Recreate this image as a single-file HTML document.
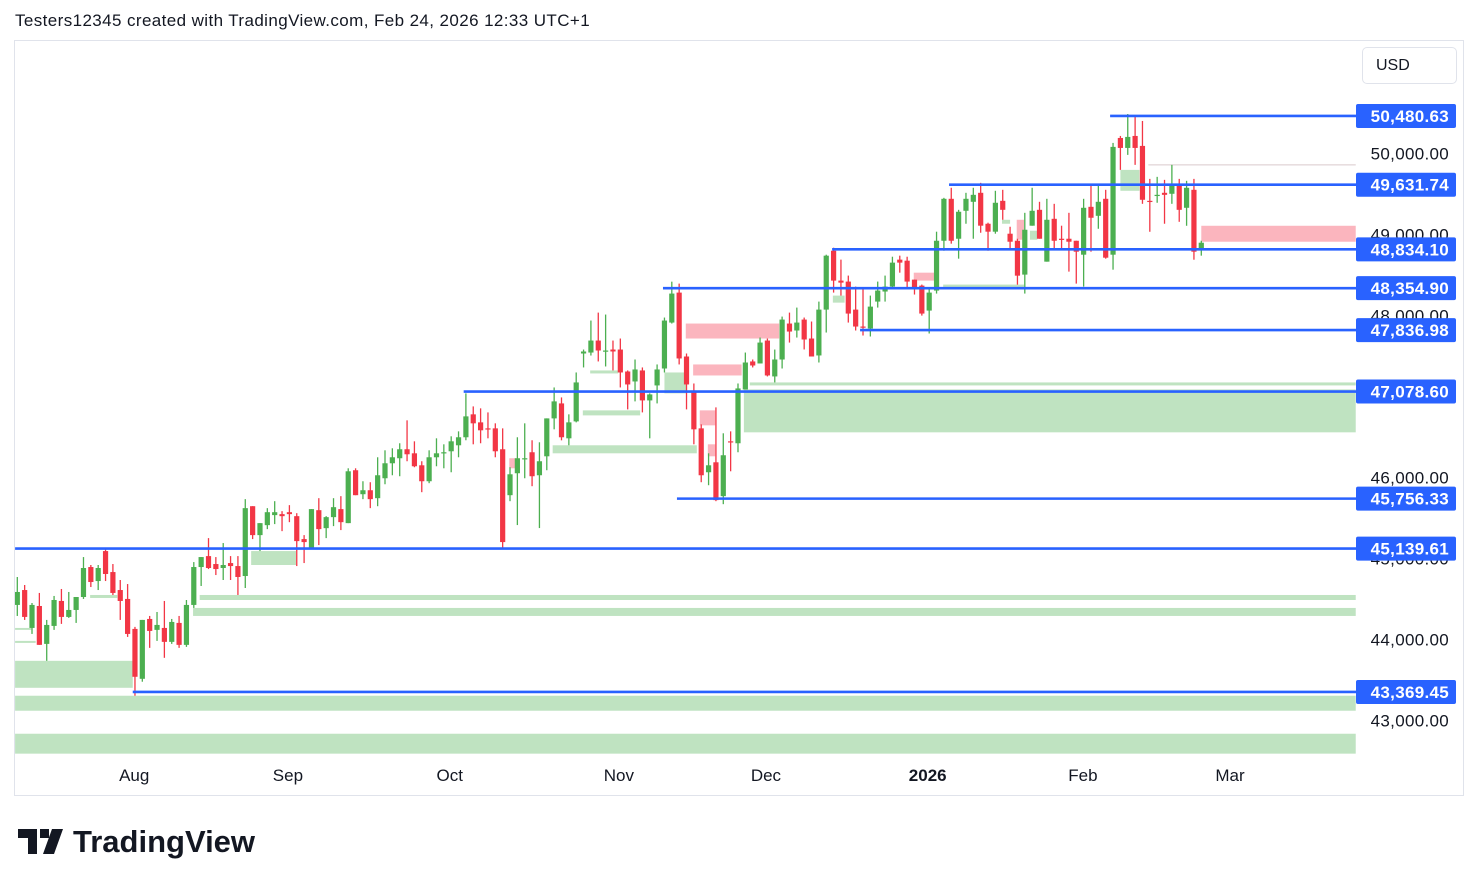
<!DOCTYPE html>
<html><head><meta charset="utf-8">
<style>
html,body{margin:0;padding:0;background:#fff;}
body{width:1479px;height:886px;position:relative;overflow:hidden;font-family:"Liberation Sans",sans-serif;color:#131722;}
#title{position:absolute;left:15px;top:11px;font-size:17px;letter-spacing:0.4px;}
#frame{position:absolute;left:14px;top:40px;width:1450px;height:756px;border:1px solid #e0e3eb;box-sizing:border-box;}
#usd{position:absolute;left:1362px;top:47px;width:95px;height:37px;border:1px solid #e0e3eb;border-radius:5px;box-sizing:border-box;font-size:16px;line-height:35px;padding-left:13px;}
#logo{position:absolute;left:18px;top:822px;height:40px;}
svg text{font-family:"Liberation Sans",sans-serif;}
</style></head>
<body>
<div id="title">Testers12345 created with TradingView.com, Feb 24, 2026 12:33 UTC+1</div>
<div id="frame"></div>
<svg id="chart" width="1479" height="886" style="position:absolute;left:0;top:0"></svg>
<div id="usd">USD</div>
<svg id="logo" width="260" height="40">
 <path d="M0 7h19v25h-9V16H0z M22 7h9v9h-9z M34 7h11l-9 25H25z" fill="#131722"/>
 <text x="55" y="30" font-size="31" font-weight="bold" fill="#131722">TradingView</text>
</svg>
<script>
const opens=[44444,44628,44160,44431,43963,44185,44493,44296,44382,44542,44912,44739,45109,44850,44628,44518,44148,43532,44271,44136,44160,43988,44222,43951,44444,44912,45047,44949,44900,44961,44924,44801,45663,45306,45429,45553,45565,45589,45540,45257,45134,45614,45392,45528,45627,45454,46107,45811,45860,45762,46008,46193,46255,46366,46316,46168,45971,46267,46316,46341,46415,46514,46797,46698,46624,46624,46366,45799,46070,46242,46329,46045,46279,46747,46932,46501,46710,47548,47560,47708,47573,47597,47597,47326,47203,47339,46969,47154,47363,47930,48300,47511,47092,46624,46082,46205,45787,46464,46440,47104,47450,47425,47708,47265,47474,47918,47832,47967,47733,47524,48090,48817,48448,48436,48090,47881,47856,48189,48313,48374,48707,48694,48460,48386,48078,48325,48940,49458,48965,49310,49421,49532,49150,49052,49433,49027,48940,48522,49126,49322,48682,49211,48965,48965,48940,48768,49359,49248,49458,48768,50209,50086,50234,50111,49433,49495,49532,49520,49618,49347,49569,48830];
const highs=[44789,44690,44468,44592,44259,44555,44641,44604,44542,45035,44937,44937,45134,44949,44752,44702,44173,44259,44308,44357,44493,44271,44308,44505,44973,45035,45269,45035,45208,45047,45047,45750,45663,45454,45639,45725,45602,45676,45577,45306,45627,45762,45540,45762,45787,46131,46131,45971,45959,46267,46353,46378,46440,46723,46464,46218,46353,46501,46427,46526,46587,47056,46895,46871,46821,46686,46624,46144,46514,46686,46477,46452,46747,47129,47006,46797,47314,47597,47955,48053,48029,47708,47733,47339,47474,47376,47056,47413,47992,48435,48411,47548,47178,46673,46316,46883,46563,46587,47178,47560,47474,47745,47733,47597,48004,48053,48115,47992,47943,48189,48768,48854,48707,48510,48374,48349,48263,48436,48510,48743,48756,48743,48460,48399,48362,49052,49470,49594,49322,49532,49594,49655,49163,49557,49569,49113,48965,49285,49594,49421,49458,49396,49126,49285,48940,49458,49631,49631,49569,50148,50234,50505,50480,50419,49704,49729,49692,49877,49704,49680,49704,48940];
const lows=[44308,44259,44086,43951,43754,44136,44210,44284,44222,44518,44665,44628,44739,44567,44259,44049,43323,43496,43914,44000,43791,43963,43914,43926,44407,44678,44887,44813,44752,44752,44567,44653,45257,45109,45380,45442,45355,45466,44924,44961,45134,45183,45269,45417,45368,45454,45799,45750,45639,45663,45934,46045,46033,46218,46144,45836,45947,46156,46131,46082,46267,46477,46427,46440,46501,46267,45134,45725,45430,46008,45910,45393,46107,46612,46476,46415,46698,47376,47523,47450,47388,47339,47129,46858,46957,46821,46501,46932,47314,47918,47413,46858,46427,45959,45922,45725,45688,46094,46329,47104,47376,47425,47265,47191,47363,47683,47745,47598,47511,47437,47807,48300,48263,47930,47832,47770,47758,48115,48189,48349,48546,48362,48276,48016,47795,48288,48817,48904,48719,49150,48965,49039,48817,49027,49199,48842,48398,48288,49126,48965,48682,48830,48830,48559,48411,48374,48805,49088,48719,48583,49815,50000,49877,49396,49051,49409,49150,49396,49174,49125,48706,48756];
const closes=[44604,44296,44444,43951,44197,44505,44296,44382,44542,44900,44727,44900,44826,44592,44493,44086,43557,44259,44123,44197,43988,44234,43951,44444,44912,45035,44900,44887,44937,44924,44789,45639,45306,45454,45589,45589,45540,45565,45232,45220,45627,45380,45528,45651,45466,46094,45799,45860,45750,46045,46193,46267,46366,46304,46156,45971,46267,46316,46329,46464,46514,46772,46686,46600,46612,46341,45220,46057,46255,46255,46033,46218,46747,46957,46514,46698,47191,47573,47708,47585,47585,47573,47314,47166,47351,46969,47043,47351,47955,48288,47487,47166,46612,46045,46168,45738,46292,46452,47117,47437,47400,47683,47277,47474,47967,47819,47930,47721,47511,48090,48756,48448,48423,48041,47881,47869,48127,48325,48374,48670,48670,48436,48362,48041,48300,48940,49458,48940,49298,49458,49507,49126,49052,49409,49322,48928,48509,49076,49310,48965,49199,48940,48953,48928,48805,49347,49224,49421,48731,50099,50086,50222,50086,49446,49421,49507,49507,49618,49322,49594,48805,48916];
const levels=[50480.63,49631.74,48834.10,48354.90,47836.98,47078.60,45756.33,45139.61,43369.45];
const levelStart=[148.6,126.7,110.8,87.8,114.6,60.7,89.7,-0.3,15.7];
const priceTicks=[50000,49000,48000,46000,45000,44000,43000];
const monthLabels=["Aug","Sep","Oct","Nov","Dec","2026","Feb","Mar"];
const monthIdx=[15.9,36.8,58.8,81.8,101.8,123.8,144.9,164.9];
const greenZones=[[98.8,182,47105,46575],[99.6,182,47191,47154],[-0.3,182,43323,43138],[-0.3,182,42854,42608],[24.8,182,44567,44505],[23.9,182,44407,44308],[-0.3,15.7,43754,43421],[-0.3,1.9,44160,44136],[-0.3,2.5,44000,43975],[9.9,13.6,44567,44530],[31.8,37.9,45109,44937],[72.8,92.4,46415,46316],[76.9,84.7,46846,46784],[77.9,81.7,47339,47302],[88,91,47314,47056],[110.9,112.5,48263,48176],[125.9,136.9,48399,48349],[150,152.6,49815,49557],[133.9,135,49199,49150],[137.7,138.7,49064,48953]];
const pinkZones=[[90.9,103.6,47918,47733],[91.9,98.5,47413,47277],[92.8,94.9,46846,46661],[93.9,94.9,46427,46279],[121.9,124.7,48546,48448],[135.9,136.9,49199,48953],[161,182,49125,48928],[66.9,67.8,46255,46131]];

const svg=document.getElementById('chart');
const NS='http://www.w3.org/2000/svg';
function X(i){return 17.3+i*7.354;}
function Y(p){return 154.9+(50000-p)*0.0810;}
function mk(tag,attrs,parent){const e=document.createElementNS(NS,tag);for(const k in attrs)e.setAttribute(k,attrs[k]);(parent||svg).appendChild(e);return e;}
function fmt(v){return v.toLocaleString('en-US',{minimumFractionDigits:2,maximumFractionDigits:2});}

const defs=mk('defs',{});
const cp=mk('clipPath',{id:'pane'},defs);
mk('rect',{x:15,y:42,width:1341,height:720},cp);
const pane=mk('g',{'clip-path':'url(#pane)'});



greenZones.forEach(z=>{
  const r=mk('rect',{x:X(z[0]),y:Y(z[2]),width:X(z[1])-X(z[0]),height:Y(z[3])-Y(z[2]),fill:'#bfe3c1'},pane);
  
  
});
pinkZones.forEach(z=>{
  const r=mk('rect',{x:X(z[0]),y:Y(z[2]),width:X(z[1])-X(z[0]),height:Y(z[3])-Y(z[2]),fill:'#fbb5be'},pane);
  
  
});
const gl=mk('line',{x1:X(153.8),x2:X(182),y1:Y(49877),y2:Y(49877),stroke:'#d9c9cc','stroke-width':1},pane);



for(let i=0;i<opens.length;i++){
  const up=closes[i]>=opens[i];const col=up?'#4caf50':'#f23645';
  const g=mk('g',{},pane);
  
  
  mk('line',{x1:X(i),x2:X(i),y1:Y(highs[i]),y2:Y(lows[i]),stroke:col,'stroke-width':1.3},g);
  const t=Y(Math.max(opens[i],closes[i])),b=Y(Math.min(opens[i],closes[i]));
  mk('rect',{x:X(i)-2.6,y:t,width:5.2,height:Math.max(1.2,b-t),fill:col},g);
}

priceTicks.forEach(p=>{
  const t=mk('text',{x:1449,y:Y(p)+4.5,'text-anchor':'end','font-size':17,fill:'#131722','letter-spacing':0.3});
  t.textContent=fmt(p);
  
  
});
levels.forEach((p,k)=>{
  const l=mk('line',{x1:X(levelStart[k]),x2:1356,y1:Y(p),y2:Y(p),stroke:'#2962ff','stroke-width':2.6},pane);
  
  
  const g=mk('g',{});
  
  
  mk('rect',{x:1356,y:Y(p)-12,width:100,height:24,rx:2,fill:'#2962ff'},g);
  const t=mk('text',{x:1449,y:Y(p)+6,'text-anchor':'end','font-size':17,'font-weight':'bold',fill:'#fff','letter-spacing':0.3},g);
  t.textContent=fmt(p);
});
monthLabels.forEach((m,k)=>{
  const t=mk('text',{x:X(monthIdx[k]),y:781,'text-anchor':'middle','font-size':17,fill:'#131722','font-weight':m==='2026'?'bold':'normal'});
  t.textContent=m;
  
  
});
</script>
</body></html>
